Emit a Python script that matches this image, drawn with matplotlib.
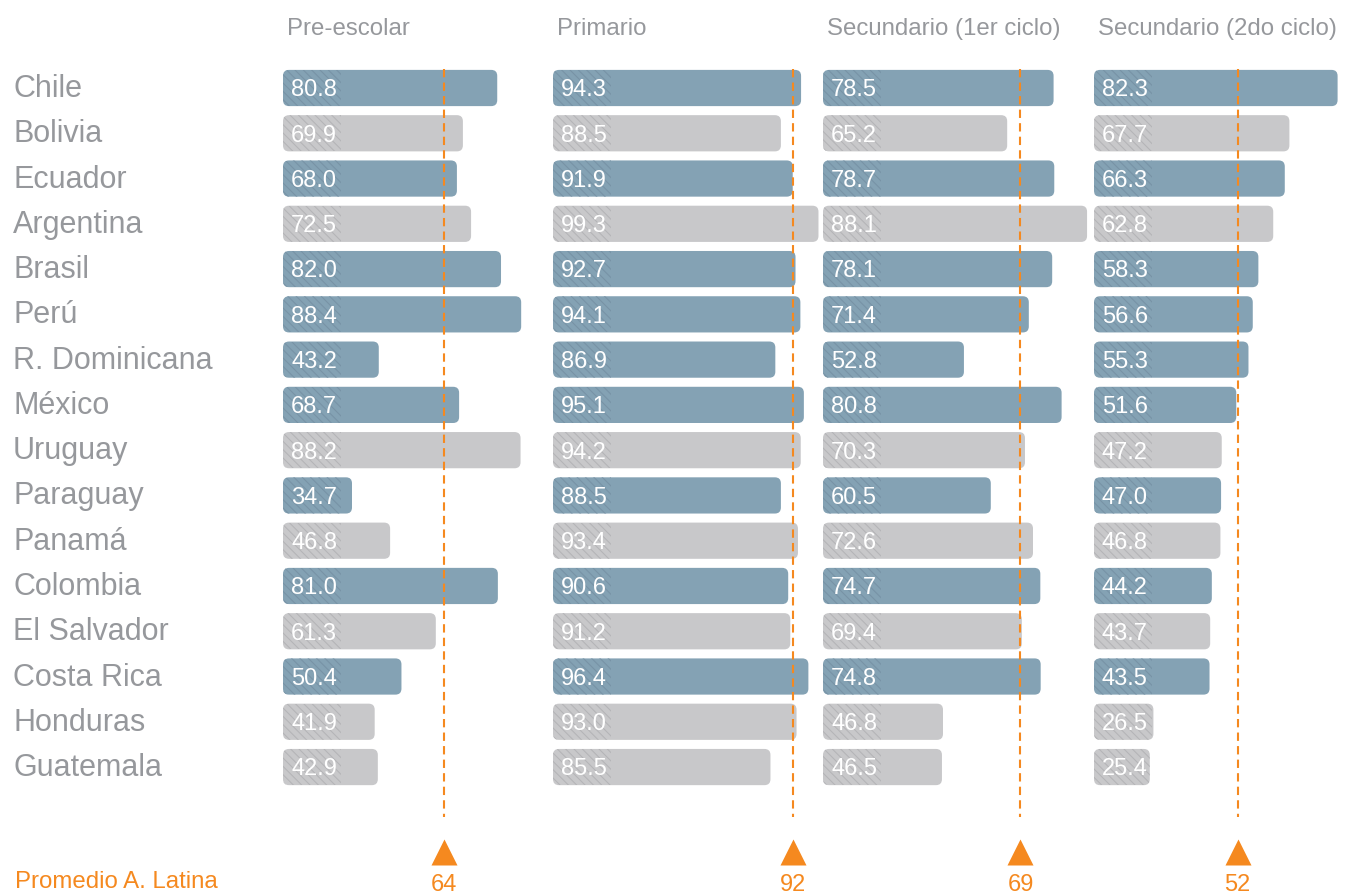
import numpy as np
import matplotlib
matplotlib.use("Agg")
import matplotlib.pyplot as plt
from matplotlib.patches import FancyBboxPatch, Rectangle
import matplotlib.transforms as mtransforms

plt.rcParams['font.family'] = ['Liberation Sans', 'DejaVu Sans']
plt.rcParams['hatch.linewidth'] = 0.8

# datos
paises = ["Chile", "Bolivia", "Ecuador", "Argentina", "Brasil", "Perú", "R. Dominicana",
          "México", "Uruguay", "Paraguay", "Panamá", "Colombia", "El Salvador",
          "Costa Rica", "Honduras", "Guatemala"]
destacado = [1, 0, 1, 0, 1, 1, 1, 1, 0, 1, 0, 1, 0, 1, 0, 0]
niveles = ["Pre-escolar", "Primario", "Secundario (1er ciclo)", "Secundario (2do ciclo)"]
pre_escolar = [80.8, 69.9, 68.0, 72.5, 82.0, 88.4, 43.2, 68.7, 88.2, 34.7, 46.8, 81.0, 61.3, 50.4, 41.9, 42.9]
primario = [94.3, 88.5, 91.9, 99.3, 92.7, 94.1, 86.9, 95.1, 94.2, 88.5, 93.4, 90.6, 91.2, 96.4, 93.0, 85.5]
secundario_1 = [78.5, 65.2, 78.7, 88.1, 78.1, 71.4, 52.8, 80.8, 70.3, 60.5, 72.6, 74.7, 69.4, 74.8, 46.8, 46.5]
secundario_2 = [82.3, 67.7, 66.3, 62.8, 58.3, 56.6, 55.3, 51.6, 47.2, 47.0, 46.8, 44.2, 43.7, 43.5, 26.5, 25.4]
promedio = [64, 92, 69, 52]

series = [pre_escolar, primario, secundario_1, secundario_2]

AZUL = '#84a2b4'
AZUL_TEX = '#7893a6'
GRIS = '#c8c8ca'
GRIS_TEX = '#b5b5b8'
NARANJA = '#f5891f'
TEXTO = '#96989c'

W, H = 1365, 895
fig = plt.figure(figsize=(W / 100, H / 100), dpi=100)

# posicion de cada panel (px) y escala aproximada de la grafica original
izq_px = [283, 553, 823, 1094]
xlims = [(12.8, 98.5), (23, 100.6), (12.4, 89.8), (8.5, 90.3)]
ancho_px = 270

fila0_px = 89
paso_px = 45.27
top_px = fila0_px - paso_px / 2
n_filas = (H - top_px) / paso_px
alto_barra = 0.8

ejes = []
for i in range(4):
    ax = fig.add_axes([izq_px[i] / W, 0, ancho_px / W, (H - top_px) / H])
    x0, x1 = xlims[i]
    ax.set_xlim(x0, x1)
    ax.set_ylim(n_filas - 0.5, -0.5)
    ax.axis('off')
    s = ancho_px / (x1 - x0)
    rx = 6 / s
    ry = 6 / paso_px
    for j, v in enumerate(series[i]):
        color = AZUL if destacado[j] else GRIS
        tex = AZUL_TEX if destacado[j] else GRIS_TEX
        p = FancyBboxPatch((x0, j - alto_barra / 2), v - x0, alto_barra,
                           boxstyle="round,pad=0,rounding_size=%f" % rx,
                           mutation_aspect=ry / rx, fc=color, ec='none', clip_on=False)
        ax.add_patch(p)
        # textura en el extremo izquierdo
        r = Rectangle((x0, j - alto_barra / 2), min(58 / s, v - x0), alto_barra,
                      fill=False, hatch='\\\\\\\\', ec=tex, lw=0)
        ax.add_patch(r)
        r.set_clip_path(p)
        r.set_clip_on(True)
        ax.text(x0 + 8 / s, j + 0.03, "%.1f" % v, color='white', fontsize=17,
                va='center', ha='left')
    # linea de promedio
    y_ini = (70 - fila0_px) / paso_px
    y_fin = (818 - fila0_px) / paso_px
    ax.plot([promedio[i], promedio[i]], [y_ini, y_fin], color=NARANJA, lw=1.5,
            dashes=(4, 2.5), clip_on=False, zorder=3)
    ax.plot(promedio[i], (853 - fila0_px) / paso_px, marker='^', ms=19,
            color=NARANJA, mec='none', clip_on=False)
    ax.text(promedio[i], (885 - fila0_px) / paso_px, str(promedio[i]), color=NARANJA,
            fontsize=17, ha='center', va='center', clip_on=False)
    ax.text(x0 + 4 / s, (29 - fila0_px) / paso_px, niveles[i], color=TEXTO,
            fontsize=17.3, ha='left', va='center', clip_on=False)
    ejes.append(ax)

# nombres de paises
tr = mtransforms.blended_transform_factory(fig.transFigure, ejes[0].transData)
for j, p in enumerate(paises):
    ejes[0].text(13 / W, j, p, transform=tr, color=TEXTO, fontsize=22,
                 ha='left', va='center', clip_on=False)

ejes[0].text(15 / W, (882 - fila0_px) / paso_px, "Promedio A. Latina", transform=tr,
             color=NARANJA, fontsize=17.3, ha='left', va='center', clip_on=False)

fig.savefig("out.png", dpi=100)
